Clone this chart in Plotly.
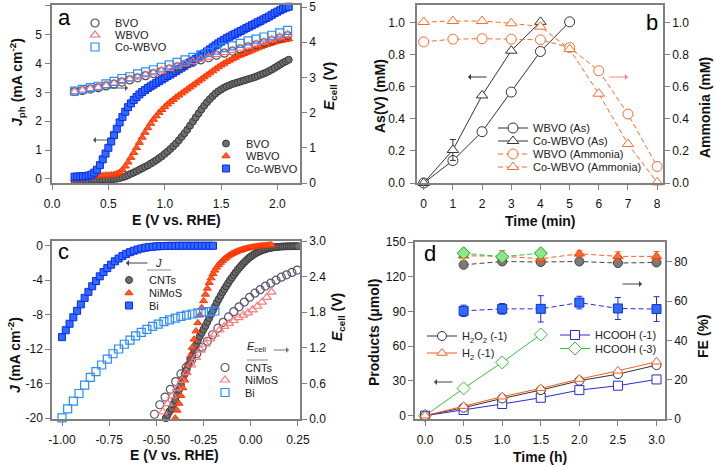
import plotly.graph_objects as go

FONT = "Liberation Sans, Arial, sans-serif"
W, H = 715, 467

# ---------------- Panel a data ----------------
a_E = [0.2, 0.225, 0.25, 0.275, 0.3, 0.325, 0.35, 0.375, 0.4, 0.425, 0.45, 0.475,
       0.5, 0.525, 0.55, 0.575, 0.6, 0.625, 0.65, 0.675, 0.7, 0.725, 0.75, 0.775,
       0.8, 0.825, 0.85, 0.875, 0.9, 0.925, 0.95, 0.975, 1.0, 1.025, 1.05, 1.075,
       1.1, 1.125, 1.15, 1.175, 1.2, 1.225, 1.25, 1.275, 1.3, 1.325, 1.35, 1.375,
       1.4, 1.425, 1.45, 1.475, 1.5, 1.525, 1.55, 1.575, 1.6, 1.625, 1.65, 1.675,
       1.7, 1.725, 1.75, 1.775, 1.8, 1.825, 1.85, 1.875, 1.9, 1.925, 1.95, 1.975,
       2.0, 2.025, 2.05, 2.075, 2.1]
a_J_BVO = [-0.06, -0.06, -0.05, -0.05, -0.04, -0.04, -0.03, -0.03, -0.03, -0.02, -0.02, -0.02,
           -0.01, -0.01, 0.00, 0.01, 0.03, 0.06, 0.09, 0.13, 0.18, 0.22, 0.27, 0.32,
           0.37, 0.42, 0.47, 0.53, 0.59, 0.65, 0.72, 0.79, 0.87, 0.95, 1.04, 1.13,
           1.23, 1.34, 1.46, 1.58, 1.71, 1.85, 1.99, 2.13, 2.27, 2.41, 2.54, 2.66,
           2.77, 2.87, 2.96, 3.04, 3.10, 3.16, 3.21, 3.25, 3.29, 3.32, 3.35, 3.38,
           3.41, 3.44, 3.47, 3.50, 3.53, 3.57, 3.61, 3.65, 3.69, 3.74, 3.79, 3.85,
           3.91, 3.97, 4.03, 4.08, 4.13]
a_J_WBVO = [0.00, 0.01, 0.02, 0.04, 0.06, 0.08, 0.09, 0.10, 0.11, 0.12, 0.12, 0.13,
            0.13, 0.14, 0.15, 0.18, 0.23, 0.32, 0.44, 0.58, 0.74, 0.91, 1.08, 1.26,
            1.44, 1.61, 1.77, 1.92, 2.06, 2.18, 2.30, 2.40, 2.50, 2.59, 2.67, 2.75,
            2.83, 2.90, 2.97, 3.04, 3.11, 3.18, 3.25, 3.32, 3.39, 3.46, 3.53, 3.60,
            3.67, 3.74, 3.81, 3.88, 3.94, 4.00, 4.06, 4.11, 4.16, 4.21, 4.26, 4.30,
            4.34, 4.38, 4.42, 4.46, 4.50, 4.54, 4.58, 4.62, 4.65, 4.68, 4.71, 4.74,
            4.77, 4.79, 4.81, 4.83, 4.85]
a_J_Co = [0.08, 0.08, 0.09, 0.09, 0.10, 0.12, 0.15, 0.22, 0.32, 0.48, 0.68, 0.88,
          1.08, 1.30, 1.52, 1.74, 1.96, 2.15, 2.33, 2.49, 2.62, 2.74, 2.84, 2.93,
          3.01, 3.08, 3.15, 3.21, 3.27, 3.33, 3.39, 3.45, 3.51, 3.57, 3.62, 3.68,
          3.74, 3.80, 3.86, 3.92, 3.98, 4.04, 4.10, 4.16, 4.22, 4.29, 4.35, 4.42,
          4.49, 4.56, 4.63, 4.70, 4.76, 4.82, 4.88, 4.93, 4.98, 5.03, 5.08, 5.13,
          5.18, 5.23, 5.28, 5.33, 5.38, 5.43, 5.48, 5.53, 5.58, 5.63, 5.69, 5.75,
          5.80, 5.85, 5.90, 5.94, 5.97]
a_E2 = [0.2, 0.27, 0.34, 0.41, 0.48, 0.55, 0.62, 0.69, 0.76, 0.83, 0.9, 0.97, 1.04, 1.11,
        1.18, 1.25, 1.32, 1.39, 1.46, 1.53, 1.6, 1.67, 1.74, 1.81, 1.88, 1.95, 2.02, 2.09]
a_Ec_BVO = [2.60, 2.63, 2.67, 2.71, 2.76, 2.81, 2.87, 2.93, 2.99, 3.05, 3.11, 3.17, 3.24, 3.30,
            3.37, 3.43, 3.50, 3.56, 3.63, 3.69, 3.75, 3.81, 3.87, 3.93, 3.99, 4.05, 4.12, 4.19]
a_Ec_WBVO = [2.60, 2.64, 2.68, 2.72, 2.77, 2.83, 2.89, 2.95, 3.01, 3.07, 3.13, 3.19, 3.26, 3.32,
             3.39, 3.45, 3.52, 3.58, 3.65, 3.71, 3.77, 3.83, 3.89, 3.95, 4.01, 4.08, 4.15, 4.22]
a_Ec_Co = [2.61, 2.66, 2.71, 2.75, 2.82, 2.89, 2.97, 3.02, 3.10, 3.16, 3.22, 3.29, 3.36, 3.43,
           3.50, 3.57, 3.64, 3.71, 3.78, 3.85, 3.90, 3.97, 4.04, 4.09, 4.15, 4.20, 4.27, 4.34]

# ---------------- Panel b data ----------------
b_t_As_W = [0, 1, 2, 3, 4, 5]
b_As_W = [0.0, 0.14, 0.32, 0.567, 0.82, 1.005]
b_t_As_C = [0, 1, 2, 3, 4]
b_As_C = [0.0, 0.206, 0.546, 0.825, 1.005]
b_As_C_err = [None, 0.065, None, None, None]
b_t_NH = [0, 1, 2, 3, 4, 5, 6, 7, 8]
b_NH_W = [0.88, 0.897, 0.90, 0.897, 0.893, 0.845, 0.70, 0.43, 0.103]
b_NH_C = [1.004, 1.01, 1.01, 0.996, 0.975, 0.835, 0.557, 0.243, 0.004]

# ---------------- Panel c data ----------------
c_E_Bi = [-1.0, -0.98, -0.96, -0.94, -0.92, -0.9, -0.88, -0.86, -0.84, -0.82, -0.8,
          -0.78, -0.76, -0.74, -0.72, -0.7, -0.68, -0.66, -0.64, -0.62, -0.6,
          -0.58, -0.56, -0.54, -0.52, -0.5, -0.48, -0.46, -0.44, -0.42, -0.4,
          -0.38, -0.36, -0.34, -0.32, -0.3, -0.28, -0.26, -0.24, -0.22, -0.2]
c_J_Bi = [-10.6, -9.8, -9.05, -8.3, -7.55, -6.8, -6.05, -5.35, -4.7, -4.1, -3.55,
          -3.05, -2.6, -2.2, -1.8, -1.48, -1.2, -0.95, -0.75, -0.58, -0.44,
          -0.32, -0.23, -0.16, -0.11, -0.07, -0.05, -0.03, -0.02, -0.01, -0.01,
          0.0, 0.0, 0.0, 0.0, 0.0, 0.0, 0.0, 0.0, 0.0, 0.0]
c_E_Ni = [-0.40, -0.39, -0.38, -0.37, -0.36, -0.35, -0.34, -0.33, -0.32, -0.31,
          -0.30, -0.29, -0.28, -0.27, -0.26, -0.25, -0.24, -0.23, -0.22, -0.21,
          -0.20, -0.19, -0.18, -0.17, -0.16, -0.15, -0.14, -0.13, -0.12, -0.11,
          -0.10, -0.09, -0.08, -0.07, -0.06, -0.05, -0.04, -0.03, -0.02, -0.01,
          0.00, 0.01, 0.02, 0.03, 0.04, 0.05, 0.06, 0.07, 0.08, 0.09, 0.10, 0.11]
c_J_Ni = [-20.0, -19.1, -18.3, -17.4, -16.5, -15.6, -14.7, -13.75, -12.8, -11.8,
          -10.85, -9.9, -8.95, -8.05, -7.2, -6.4, -5.65, -4.95, -4.3, -3.75,
          -3.25, -2.85, -2.5, -2.2, -1.95, -1.73, -1.53, -1.36, -1.2, -1.06,
          -0.94, -0.83, -0.73, -0.64, -0.56, -0.49, -0.42, -0.36, -0.3, -0.25,
          -0.2, -0.16, -0.12, -0.09, -0.06, -0.03, -0.01, 0.01, 0.03, 0.05, 0.07, 0.09]
c_E_CNT = [-0.45, -0.44, -0.43, -0.42, -0.41, -0.40, -0.39, -0.38, -0.37, -0.36,
           -0.35, -0.34, -0.33, -0.32, -0.31, -0.30, -0.29, -0.28, -0.27, -0.26,
           -0.25, -0.24, -0.23, -0.22, -0.21, -0.20, -0.19, -0.18, -0.17, -0.16,
           -0.15, -0.14, -0.13, -0.12, -0.11, -0.10, -0.09, -0.08, -0.07, -0.06,
           -0.05, -0.04, -0.03, -0.02, -0.01, 0.00, 0.01, 0.02, 0.03, 0.04,
           0.05, 0.06, 0.07, 0.08, 0.09, 0.10, 0.11, 0.12, 0.13, 0.14,
           0.15, 0.16, 0.17, 0.18, 0.19, 0.20, 0.21, 0.22, 0.23, 0.24, 0.25]
c_J_CNT = [-20.0, -19.6, -19.2, -18.9, -18.4, -17.9, -17.3, -16.7, -16.1, -15.5,
           -14.9, -14.4, -13.8, -13.2, -12.7, -12.1, -11.5, -11.0, -10.5, -10.1,
           -9.7, -9.3, -8.85, -8.4, -7.95, -7.5, -7.05, -6.6, -6.2, -5.8,
           -5.4, -5.05, -4.7, -4.35, -4.0, -3.7, -3.4, -3.1, -2.8, -2.55,
           -2.3, -2.05, -1.83, -1.62, -1.43, -1.26, -1.1, -0.96, -0.83, -0.72,
           -0.62, -0.53, -0.45, -0.38, -0.32, -0.27, -0.23, -0.19, -0.16, -0.14,
           -0.12, -0.1, -0.09, -0.08, -0.07, -0.06, -0.06, -0.05, -0.05, -0.05, -0.05]
c_E_Bi_o = [-1.00, -0.97, -0.94, -0.91, -0.88, -0.85, -0.82, -0.79, -0.76, -0.73,
            -0.70, -0.67, -0.64, -0.61, -0.58, -0.55, -0.52, -0.49, -0.46, -0.43,
            -0.40, -0.37, -0.34, -0.31, -0.28, -0.25, -0.22, -0.19]
c_Ec_Bi = [0.02, 0.17, 0.30, 0.43, 0.57, 0.70, 0.80, 0.91, 1.01, 1.10,
           1.18, 1.26, 1.33, 1.40, 1.46, 1.51, 1.56, 1.60, 1.64, 1.67,
           1.70, 1.73, 1.75, 1.77, 1.79, 1.80, 1.81, 1.82]
c_E_CNT_o = [-0.51, -0.482, -0.454, -0.426, -0.398, -0.37, -0.342, -0.314, -0.286, -0.258,
             -0.23, -0.202, -0.174, -0.146, -0.118, -0.09, -0.062, -0.034, -0.006, 0.022,
             0.05, 0.078, 0.106, 0.134, 0.162, 0.19, 0.218, 0.246]
c_Ec_CNT = [0.08, 0.24, 0.37, 0.50, 0.63, 0.76, 0.87, 0.99, 1.10, 1.21,
            1.31, 1.42, 1.53, 1.63, 1.72, 1.81, 1.89, 1.97, 2.05, 2.12,
            2.18, 2.24, 2.29, 2.34, 2.39, 2.43, 2.47, 2.51]
c_E_Ni_o = [-0.465, -0.44, -0.415, -0.39, -0.365, -0.34, -0.315, -0.29, -0.265, -0.24,
            -0.215, -0.19, -0.165, -0.14, -0.115, -0.09, -0.065, -0.04, -0.015, 0.01,
            0.035, 0.06, 0.085, 0.11]
c_Ec_Ni = [0.12, 0.26, 0.39, 0.52, 0.65, 0.78, 0.91, 1.04, 1.16, 1.26,
           1.35, 1.43, 1.50, 1.56, 1.61, 1.66, 1.71, 1.75, 1.79, 1.84,
           1.90, 1.97, 2.05, 2.14]

# ---------------- Panel d data ----------------
d_t = [0.0, 0.5, 1.0, 1.5, 2.0, 2.5, 3.0]
d_H2O2 = [0.0, 6.9, 14.9, 22.1, 30.2, 35.9, 43.7]
d_H2 = [0.0, 8.3, 16.4, 23.6, 31.6, 38.8, 46.6]
d_HCOOH1 = [0.0, 4.9, 10.1, 15.5, 22.1, 25.9, 31.3]
d_t3 = [0.0, 0.5, 1.0, 1.5]
d_HCOOH3 = [0.0, 23.6, 46.0, 70.1]
d_tFE = [0.5, 1.0, 1.5, 2.0, 2.5, 3.0]
d_FE_H2O2 = [78.4, 80.1, 79.8, 80.1, 79.3, 79.6]
d_FE_H2 = [83.0, 82.8, 81.5, 84.0, 82.7, 82.7]
d_FE_H2_err = [2.5, 2.8, 2.0, 1.5, 2.3, 2.5]
d_FE_HCOOH1 = [55.0, 56.0, 56.0, 59.2, 56.2, 55.9]
d_FE_HCOOH1_err = [2.9, 2.7, 6.7, 3.2, 5.6, 6.3]
d_tFE3 = [0.5, 1.0, 1.5]
d_FE_HCOOH3 = [84.3, 82.5, 84.3]

# tick labels
c_xticks = [-1.0, -0.75, -0.5, -0.25, 0.0, 0.25]
c_xticktext = ["-1.00", "-0.75", "-0.50", "-0.25", "0.00", "0.25"]
c_yticks = [-20, -16, -12, -8, -4, 0]
c_yticktext = ["-20", "-16", "-12", "-8", "-4", "0"]


def fx(x):
    return x / W


def fy(y):
    return 1 - y / H


fig = go.Figure()
legend_layout = {}
_n = [0]


def add(trace, lx=None, ly=None):
    if lx is None:
        trace.showlegend = False
    else:
        _n[0] += 1
        name = "legend" if _n[0] == 1 else "legend%d" % _n[0]
        trace.legend = name
        trace.showlegend = True
        legend_layout[name] = dict(
            x=fx(lx), y=fy(ly), xanchor="left", yanchor="middle",
            bgcolor="rgba(0,0,0,0)", borderwidth=0,
            font=dict(family=FONT, size=11, color="#222"),
        )
    trace.cliponaxis = False
    fig.add_trace(trace)


def mk(symbol, size, color, lcolor, lw=1.0):
    return dict(symbol=symbol, size=size, color=color, line=dict(color=lcolor, width=lw))


# ---- Panel a ----
GRAY_F, GRAY_E = "#6e6e6e", "#3a3a3a"
RED_F, RED_E = "#ff5a2a", "#ff3300"
BLUE_F, BLUE_E = "#2f6bff", "#0a28f0"

add(go.Scatter(x=a_E, y=a_J_BVO, mode="markers", name="BVO", xaxis="x", yaxis="y",
               marker=mk("circle", 7, GRAY_F, GRAY_E)), 206, 143.5)
add(go.Scatter(x=a_E, y=a_J_WBVO, mode="markers", name="WBVO", xaxis="x", yaxis="y",
               marker=mk("triangle-up", 7, RED_F, RED_E)), 206, 156)
add(go.Scatter(x=a_E, y=a_J_Co, mode="markers", name="Co-WBVO", xaxis="x", yaxis="y",
               marker=mk("square", 7, BLUE_F, BLUE_E)), 206, 168.5)
add(go.Scatter(x=a_E2, y=a_Ec_BVO, mode="markers", name="BVO", xaxis="x", yaxis="y2",
               marker=mk("circle-open", 8, "#4d4d4d", "#4d4d4d", 1.2)), 75, 23)
add(go.Scatter(x=a_E2, y=a_Ec_WBVO, mode="markers", name="WBVO", xaxis="x", yaxis="y2",
               marker=mk("triangle-up-open", 8, "#ff6f6f", "#ff6f6f", 1.2)), 75, 35)
add(go.Scatter(x=a_E2, y=a_Ec_Co, mode="markers", name="Co-WBVO", xaxis="x", yaxis="y2",
               marker=mk("square-open", 8, "#2b8cff", "#2b8cff", 1.2)), 75, 47)

# ---- Panel b ----
BLK = "#333333"
ORG = "#ff6a2a"
add(go.Scatter(x=b_t_As_W, y=b_As_W, mode="lines+markers", name="WBVO (As)", xaxis="x2", yaxis="y3",
               line=dict(color=BLK, width=1), marker=mk("circle", 10, "white", BLK)), 493, 128)
add(go.Scatter(x=b_t_As_C, y=b_As_C, mode="lines+markers", name="Co-WBVO (As)", xaxis="x2", yaxis="y3",
               line=dict(color=BLK, width=1), marker=mk("triangle-up", 10, "white", BLK),
               error_y=dict(type="data", array=b_As_C_err, color=BLK, thickness=1, width=3)), 493, 141)
add(go.Scatter(x=b_t_NH, y=b_NH_W, mode="lines+markers", name="WBVO (Ammonia)", xaxis="x2", yaxis="y4",
               line=dict(color=ORG, width=1, dash="5px,3px"), marker=mk("circle", 10, "white", ORG)), 493, 154)
add(go.Scatter(x=b_t_NH, y=b_NH_C, mode="lines+markers", name="Co-WBVO (Ammonia)", xaxis="x2", yaxis="y4",
               line=dict(color=ORG, width=1, dash="5px,3px"), marker=mk("triangle-up", 10, "white", ORG)), 493, 167)

# ---- Panel c ----
add(go.Scatter(x=c_E_CNT, y=c_J_CNT, mode="markers", name="CNTs", xaxis="x3", yaxis="y5",
               marker=mk("circle", 7, GRAY_F, GRAY_E)), 109, 280)
add(go.Scatter(x=c_E_Ni, y=c_J_Ni, mode="markers", name="NiMoS", xaxis="x3", yaxis="y5",
               marker=mk("triangle-up", 7, RED_F, RED_E)), 109, 293)
add(go.Scatter(x=c_E_Bi, y=c_J_Bi, mode="markers", name="Bi", xaxis="x3", yaxis="y5",
               marker=mk("square", 7, BLUE_F, BLUE_E)), 109, 305.5)
add(go.Scatter(x=c_E_CNT_o, y=c_Ec_CNT, mode="markers", name="CNTs", xaxis="x3", yaxis="y6",
               marker=mk("circle-open", 8, "#55556b", "#55556b", 1.2)), 205, 367.5)
add(go.Scatter(x=c_E_Ni_o, y=c_Ec_Ni, mode="markers", name="NiMoS", xaxis="x3", yaxis="y6",
               marker=mk("triangle-up-open", 8, "#ff7a7a", "#ff7a7a", 1.2)), 205, 380)
add(go.Scatter(x=c_E_Bi_o, y=c_Ec_Bi, mode="markers", name="Bi", xaxis="x3", yaxis="y6",
               marker=mk("square-open", 8, "#2b8cff", "#2b8cff", 1.2)), 205, 392.5)

# ---- Panel d ----
DBLUE = "#2a2ad8"
GRN = "#33c433"
add(go.Scatter(x=d_tFE, y=d_FE_H2O2, mode="lines+markers", xaxis="x4", yaxis="y8", name="FE H2O2",
               line=dict(color="#444", width=1, dash="5px,3px"), marker=mk("circle", 9, "#7a7a7a", "#444")))
add(go.Scatter(x=d_tFE, y=d_FE_H2, mode="lines+markers", xaxis="x4", yaxis="y8", name="FE H2",
               line=dict(color="#ff5a1f", width=1, dash="5px,3px"), marker=mk("triangle-up", 9, "#ff6a3a", "#ff4000"),
               error_y=dict(type="data", array=d_FE_H2_err, color="#ff5a1f", thickness=1, width=3)))
add(go.Scatter(x=d_tFE, y=d_FE_HCOOH1, mode="lines+markers", xaxis="x4", yaxis="y8", name="FE HCOOH -1",
               line=dict(color=DBLUE, width=1, dash="5px,3px"), marker=mk("square", 9, BLUE_F, "#1030d0"),
               error_y=dict(type="data", array=d_FE_HCOOH1_err, color=DBLUE, thickness=1, width=3)))
add(go.Scatter(x=d_tFE3, y=d_FE_HCOOH3, mode="lines+markers", xaxis="x4", yaxis="y8", name="FE HCOOH -3",
               line=dict(color=GRN, width=1, dash="5px,3px"), marker=mk("diamond", 10, "#8ae88a", "#22aa22")))

add(go.Scatter(x=d_t3, y=d_HCOOH3, mode="lines+markers", name="HCOOH (-3)", xaxis="x4", yaxis="y7",
               line=dict(color=GRN, width=1), marker=mk("diamond", 10, "white", GRN)), 555, 348.5)
add(go.Scatter(x=d_t, y=d_HCOOH1, mode="lines+markers", name="HCOOH (-1)", xaxis="x4", yaxis="y7",
               line=dict(color=DBLUE, width=1), marker=mk("square", 9, "white", DBLUE)), 555, 335)
add(go.Scatter(x=d_t, y=d_H2O2, mode="lines+markers", name="H<sub>2</sub>O<sub>2</sub> (-1)", xaxis="x4", yaxis="y7",
               line=dict(color=BLK, width=1), marker=mk("circle", 9, "white", BLK)), 422, 336)
add(go.Scatter(x=d_t, y=d_H2, mode="lines+markers", name="H<sub>2</sub> (-1)", xaxis="x4", yaxis="y7",
               line=dict(color="#ff5a1f", width=1), marker=mk("triangle-up", 9, "white", "#ff5a1f")), 422, 353)

# ---------------- Axes ----------------
AX = dict(showline=True, linecolor="#808080", linewidth=1.5, ticks="outside", ticklen=5,
          tickcolor="#808080", tickwidth=1, showgrid=False, zeroline=False, automargin=False,
          tickfont=dict(family=FONT, size=12, color="#111"))
XAX = dict(AX, ticklabelstandoff=4, mirror=True)

xa = [fx(52), fx(300)]
xb = [fx(417), fx(663)]
xd = [fx(415), fx(665)]
ytop = [fy(183), fy(5)]
ybot = [fy(419), fy(241)]

layout = dict(
    width=W, height=H, margin=dict(l=0, r=0, t=0, b=0, autoexpand=False),
    paper_bgcolor="white", plot_bgcolor="white",
    font=dict(family=FONT, size=12, color="#111"),
    xaxis=dict(XAX, domain=xa, anchor="y", range=[0, 2.2], dtick=0.5, tickformat=".1f"),
    yaxis=dict(AX, domain=ytop, anchor="x", range=[-0.14, 6.03], dtick=1, ticklabelstandoff=1),
    yaxis2=dict(AX, overlaying="y", side="right", anchor="x", range=[0, 5.06], dtick=1),
    xaxis2=dict(XAX, domain=xb, anchor="y3", range=[-0.23, 8.2], dtick=1),
    yaxis3=dict(AX, domain=ytop, anchor="x2", range=[0, 1.11], dtick=0.2, tickformat=".1f", ticklabelstandoff=3),
    yaxis4=dict(AX, overlaying="y3", side="right", anchor="x2", range=[0, 1.11], dtick=0.2, tickformat=".1f"),
    xaxis3=dict(XAX, domain=xa, anchor="y5", range=[-1.053, 0.261], tickvals=c_xticks, ticktext=c_xticktext),
    yaxis5=dict(AX, domain=ybot, anchor="x3", range=[-20.1, 0.55], tickvals=c_yticks, ticktext=c_yticktext),
    yaxis6=dict(AX, overlaying="y5", side="right", anchor="x3", range=[0, 3.0], dtick=0.6, tickformat=".1f"),
    xaxis4=dict(XAX, domain=xd, anchor="y7", range=[-0.13, 3.11], dtick=0.5, tickformat=".1f"),
    yaxis7=dict(AX, domain=[fy(419), fy(242)], anchor="x4", range=[-2.85, 150], dtick=30),
    yaxis8=dict(AX, overlaying="y7", side="right", anchor="x4", range=[0, 90], dtick=20),
)
layout.update(legend_layout)
fig.update_layout(**layout)

# ---------------- Annotations ----------------
ann = []


def text(t, x, y, size=14, angle=0, xanchor="center", color="#111", bold=True):
    ann.append(dict(text=("<b>%s</b>" % t) if bold else t, x=fx(x), y=fy(y), xref="paper", yref="paper",
                    showarrow=False, textangle=angle, xanchor=xanchor, yanchor="middle",
                    font=dict(family=FONT, size=size, color=color)))


def arrow(x_tail, x_head, y, color="#444"):
    ann.append(dict(text="", x=fx(x_head), y=fy(y), xref="paper", yref="paper",
                    ax=x_tail - x_head, ay=0, axref="pixel", ayref="pixel",
                    showarrow=True, arrowhead=1, arrowsize=1, arrowwidth=1, arrowcolor=color))


# panel letters
text("a", 56, 17, size=22, xanchor="left", bold=False, color="#000")
text("b", 660, 22, size=22, xanchor="right", bold=False, color="#000")
text("c", 56, 252, size=22, xanchor="left", bold=False, color="#000")
text("d", 422, 253, size=22, xanchor="left", bold=False, color="#000")

# axis titles
text("<i>J</i><sub>ph</sub> (mA cm<sup>-2</sup>)", 17, 82, angle=-90)
text("<i>E</i><sub>cell</sub> (V)", 330, 86, angle=-90)
text("E (V vs. RHE)", 176, 220)
text("As(V) (mM)", 380, 96, angle=-90)
text("Ammonia (mM)", 705, 108, angle=-90)
text("Time (min)", 540, 221)
text("<i>J</i> (mA cm<sup>-2</sup>)", 14, 355, angle=-90)
text("<i>E</i><sub>cell</sub> (V)", 338, 317, angle=-90)
text("E (V vs. RHE)", 174, 455)
text("Products (\u03bcmol)", 374, 333, angle=-90)
text("FE (%)", 703, 336, angle=-90)
text("Time (h)", 540, 457)

# legend headers in panel c
text("<i>J</i>", 158, 263, size=11, bold=False, color="#222")
text("<i>E</i><sub>cell</sub>", 256, 347, size=11, bold=False, color="#222")

# arrows
arrow(107, 128, 88, "#555")
arrow(112, 93, 140, "#555")
arrow(488, 468, 77, "#333")
arrow(608, 628, 77, "#ff8080")
arrow(149, 126, 263, "#3a3a6a")
arrow(272, 289, 350, "#777")
arrow(621, 642, 284, "#444")
arrow(454, 434, 382, "#444")

shapes = [
    dict(type="line", xref="paper", yref="paper", x0=fx(147), x1=fx(171), y0=fy(270), y1=fy(270),
         line=dict(color="#9a9ab4", width=1.2)),
    dict(type="line", xref="paper", yref="paper", x0=fx(247), x1=fx(268), y0=fy(360), y1=fy(360),
         line=dict(color="#9a9a9a", width=1.2)),
]

fig.update_layout(annotations=ann, shapes=shapes)
fig.write_html("out.html", config={"displayModeBar": False},
               post_script="document.body.style.margin='0';document.body.style.padding='0';"
                           "document.body.style.overflow='hidden';")
